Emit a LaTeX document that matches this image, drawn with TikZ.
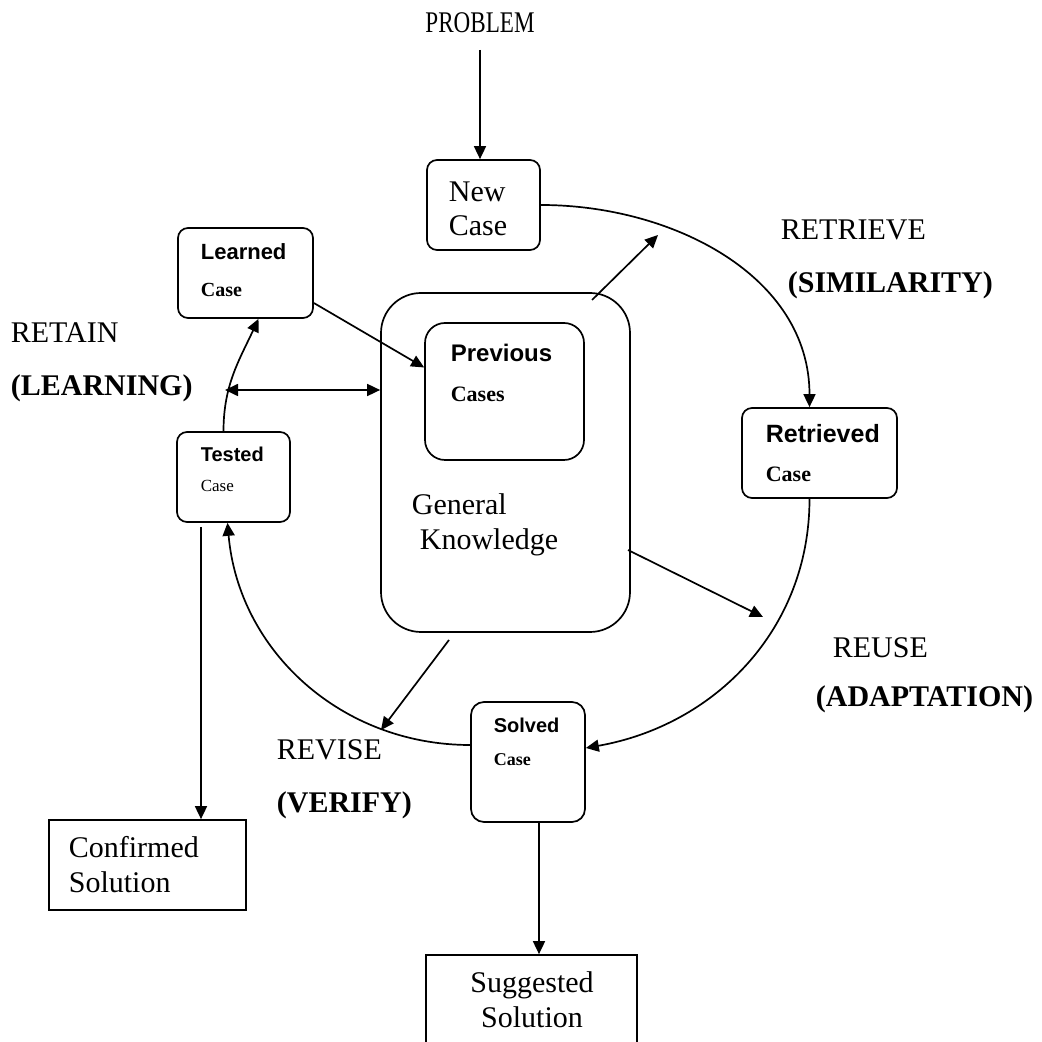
\documentclass[tikz,border=0pt]{standalone}
\usepackage{fontspec}
\setmainfont{Liberation Serif}
\setsansfont{Liberation Sans}
\usetikzlibrary{arrows.meta}

\begin{document}
\begin{tikzpicture}[
    x = 1pt,
    y = 1pt,
    >={Triangle[length=13pt, width=12pt]},
    line width=1.7pt,
    cbox/.style={draw, rounded corners=10pt, inner sep=0pt},
    sbox/.style={draw, inner sep=0pt},
    big/.style={anchor=base west, inner sep=0pt, font=\fontsize{30}{36}\selectfont},
    head/.style={anchor=base west, inner sep=0pt, font=\sffamily\bfseries\fontsize{#1}{#1}\selectfont},
    sub/.style={anchor=base west, inner sep=0pt, font=\bfseries\fontsize{#1}{#1}\selectfont},
    ]
    \useasboundingbox (0,0) rectangle (1042,1042);
    \clip (0,0) rectangle (1042,1042);
    % boxes
    \node[cbox, minimum width=113pt, minimum height=90pt] (new) at (483.5,837) {};
    \node[cbox, minimum width=135pt, minimum height=90pt] (learned) at (245.5,769) {};
    \node[cbox, minimum width=113pt, minimum height=90pt] (tested) at (233.5,565) {};
    \node[cbox, rounded corners=40pt, minimum width=249pt, minimum height=339pt] (gk) at (505.5,579.5) {};
    \node[cbox, rounded corners=20pt, minimum width=159pt, minimum height=137pt] (prev) at (504.5,650.5) {};
    \node[cbox, minimum width=155pt, minimum height=90pt] (retrieved) at (819.5,589) {};
    \node[cbox, rounded corners=13pt, minimum width=114pt, minimum height=120pt] (solved) at (528,280) {};
    \node[sbox, minimum width=197pt, minimum height=90pt] (confirmed) at (147.5,177) {};
    \node[sbox, minimum width=211pt, minimum height=107pt] (suggested) at (531.5,33.5) {};
    % box texts
    \node[big, anchor=base] (problem) at (480,1009) {\scalebox{0.77}[1]{PROBLEM}};
    \node[big] (newA) at (448,840) {New};
    \node[big] (newB) at (448,806) {Case};
    \node[head=22] (learnedA) at (200,782) {Learned};
    \node[sub=20] (learnedB) at (200,745) {Case};
    \node[head=20] (testedA) at (200,580) {Tested};
    \node[big, font=\fontsize{17}{17}\selectfont] (testedB) at (200,550) {Case};
    \node[head=24] (prevA) at (450,680) {Previous};
    \node[sub=22] (prevB) at (450,640) {Cases};
    \node[big] (gkA) at (411,527) {General};
    \node[big] (gkB) at (419,492) {Knowledge};
    \node[head=25] (retrievedA) at (765,599) {Retrieved};
    \node[sub=22] (retrievedB) at (765,560) {Case};
    \node[head=20] (solvedA) at (493,309) {Solved};
    \node[sub=18] (solvedB) at (493,276) {Case};
    \node[big] (confirmedA) at (68,184) {Confirmed};
    \node[big] (confirmedB) at (68,149) {Solution};
    \node[big, anchor=base] (suggestedA) at (532,49) {Suggested};
    \node[big, anchor=base] (suggestedB) at (532,15) {Solution};
    % phase labels
    \foreach \nm/\xa/\ya/\xb/\yb/\ta/\tb in {
      retrieve/780/802/787/749/RETRIEVE/SIMILARITY,
      retain/10/699/10/646/RETAIN/LEARNING,
      reuse/832/384/815/335/REUSE/ADAPTATION,
      revise/276/282/276/229/REVISE/VERIFY}
    {
      \node[big] (\nm A) at (\xa,\ya) {\ta};
      \node[big, font=\bfseries\fontsize{30}{36}\selectfont] (\nm B) at (\xb,\yb) {(\tb)};
    }
    % problem in
    \coordinate (probfoot) at (480,992);
    \draw[->] (probfoot) -- (probfoot |- new.north);
    % cycle arcs
    \draw[->] (new.east) to[out=0, in=90] ([xshift=-10pt]retrieved.north);
    \draw[->] ([xshift=-10pt]retrieved.south) to[out=-90, in=10] ([yshift=14pt]solved.east);
    \draw[->] ([yshift=17pt]solved.west) to[out=180, in=-85] ([xshift=-6pt]tested.south);
    \draw[->] ([xshift=-10pt]tested.north) to[out=90, in=-115] ([xshift=13pt]learned.south);
    % retain links
    \coordinate (retainjoin) at (225,652);
    \draw[<->] (retainjoin) -- (retainjoin -| gk.west);
    \draw[->] ([yshift=-30pt]learned.east) -- ([yshift=24pt]prev.west);
    % knowledge spokes
    \coordinate (gkTop) at (592,742);
    \coordinate (gkTopTip) at (658,807);
    \coordinate (gkSide) at (628,492);
    \coordinate (gkSideTip) at (763,425);
    \coordinate (gkBot) at (449,402);
    \coordinate (gkBotTip) at (381,312);
    \draw[->] (gkTop) -- (gkTopTip);
    \draw[->] (gkSide) -- (gkSideTip);
    \draw[->] (gkBot) -- (gkBotTip);
    % outputs
    \coordinate (testfoot) at (201,515);
    \draw[->] (testfoot) -- (testfoot |- confirmed.north);
    \coordinate (solvfoot) at ([xshift=11pt]solved.south);
    \draw[->] (solvfoot) -- (solvfoot |- suggested.north);
\end{tikzpicture}
\end{document}
